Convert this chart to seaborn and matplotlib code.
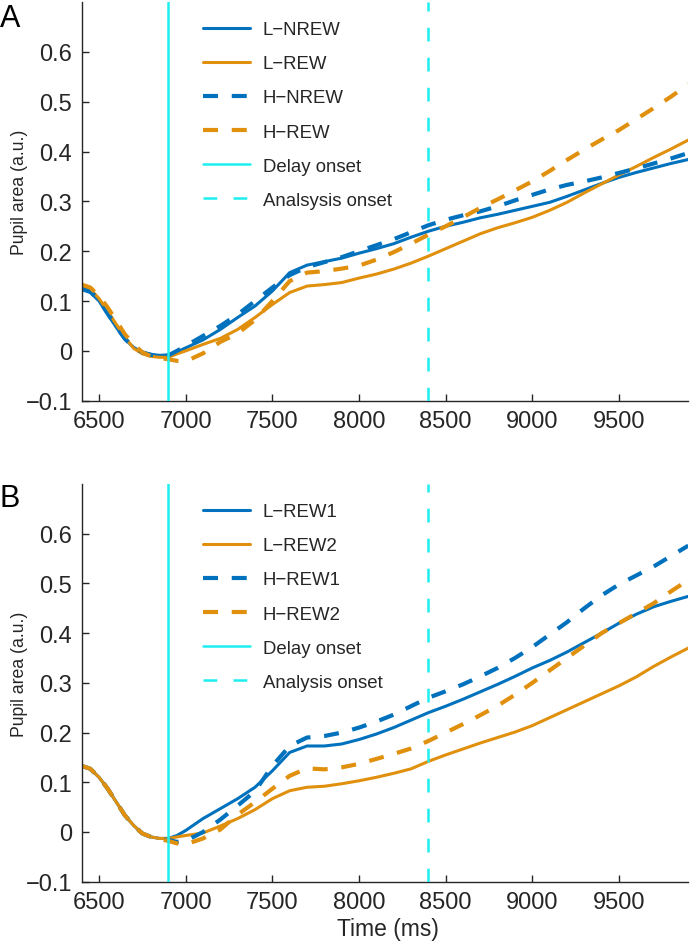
import matplotlib
matplotlib.use("Agg")
import matplotlib.pyplot as plt
import seaborn as sns
import pandas as pd

# ---------------- data ----------------
time_ms = [6400, 6450, 6500, 6550, 6600, 6650, 6700, 6750, 6800, 6850, 6900, 6950, 7000,
           7100, 7200, 7300, 7400, 7500, 7600, 7700, 7800, 7900,
           8000, 8100, 8200, 8300, 8400, 8500, 8600, 8700, 8800, 8900,
           9000, 9100, 9200, 9300, 9400, 9500, 9600, 9700, 9800, 9900]

# Panel A
a_l_nrew = [0.123, 0.117, 0.100, 0.073, 0.047, 0.023, 0.007, -0.003, -0.007, -0.009, -0.008, -0.002, 0.006,
            0.022, 0.043, 0.067, 0.090, 0.120, 0.157, 0.172, 0.179, 0.186,
            0.196, 0.205, 0.215, 0.228, 0.240, 0.250, 0.258, 0.267, 0.274, 0.282,
            0.290, 0.298, 0.310, 0.323, 0.336, 0.348, 0.358, 0.367, 0.376, 0.384]
a_l_rew = [0.130, 0.124, 0.105, 0.080, 0.053, 0.027, 0.005, -0.006, -0.011, -0.013, -0.013, -0.006, 0.000,
           0.013, 0.025, 0.043, 0.067, 0.093, 0.117, 0.130, 0.133, 0.137,
           0.146, 0.154, 0.164, 0.176, 0.190, 0.205, 0.220, 0.235, 0.247, 0.257,
           0.268, 0.282, 0.298, 0.317, 0.335, 0.353, 0.370, 0.388, 0.405, 0.423]
a_h_nrew = [0.125, 0.119, 0.102, 0.075, 0.048, 0.024, 0.007, -0.003, -0.008, -0.010, -0.009, 0.000, 0.010,
            0.030, 0.050, 0.073, 0.100, 0.127, 0.152, 0.168, 0.178, 0.188,
            0.200, 0.212, 0.224, 0.238, 0.252, 0.263, 0.272, 0.280, 0.290, 0.302,
            0.313, 0.324, 0.333, 0.340, 0.348, 0.357, 0.366, 0.376, 0.386, 0.397]
a_h_rew = [0.133, 0.127, 0.110, 0.087, 0.060, 0.033, 0.013, -0.003, -0.011, -0.014, -0.017, -0.020, -0.021,
           -0.005, 0.018, 0.035, 0.062, 0.100, 0.140, 0.157, 0.160, 0.165,
           0.171, 0.183, 0.198, 0.215, 0.233, 0.250, 0.268, 0.287, 0.304, 0.322,
           0.340, 0.361, 0.383, 0.404, 0.424, 0.443, 0.465, 0.487, 0.510, 0.535]

# Panel B
b_l_rew1 = [0.133, 0.127, 0.110, 0.087, 0.060, 0.033, 0.013, -0.003, -0.010, -0.013, -0.013, -0.007, 0.003,
            0.027, 0.047, 0.067, 0.090, 0.123, 0.160, 0.173, 0.173, 0.177,
            0.186, 0.197, 0.210, 0.225, 0.240, 0.253, 0.267, 0.282, 0.297, 0.313,
            0.330, 0.345, 0.362, 0.381, 0.400, 0.420, 0.438, 0.453, 0.464, 0.474]
b_l_rew2 = [0.133, 0.127, 0.110, 0.087, 0.060, 0.033, 0.013, -0.003, -0.010, -0.013, -0.013, -0.010, -0.007,
            -0.002, 0.012, 0.027, 0.045, 0.067, 0.083, 0.090, 0.092, 0.097,
            0.103, 0.110, 0.118, 0.127, 0.142, 0.155, 0.167, 0.179, 0.190, 0.201,
            0.214, 0.230, 0.246, 0.262, 0.278, 0.294, 0.312, 0.333, 0.352, 0.370]
b_h_rew1 = [0.133, 0.127, 0.110, 0.087, 0.060, 0.033, 0.013, -0.003, -0.010, -0.014, -0.016, -0.020, -0.018,
            0.000, 0.025, 0.053, 0.082, 0.133, 0.173, 0.190, 0.193, 0.200,
            0.210, 0.222, 0.236, 0.253, 0.270, 0.283, 0.297, 0.313, 0.330, 0.350,
            0.372, 0.397, 0.422, 0.450, 0.476, 0.498, 0.516, 0.534, 0.555, 0.576]
b_h_rew2 = [0.133, 0.127, 0.110, 0.087, 0.060, 0.033, 0.013, -0.003, -0.010, -0.014, -0.018, -0.023, -0.025,
            -0.013, 0.005, 0.035, 0.060, 0.087, 0.113, 0.128, 0.126, 0.130,
            0.137, 0.147, 0.157, 0.168, 0.183, 0.200, 0.217, 0.235, 0.254, 0.276,
            0.300, 0.325, 0.350, 0.375, 0.400, 0.420, 0.440, 0.460, 0.484, 0.507]

labels_a = ["L\u2212NREW", "L\u2212REW", "H\u2212NREW", "H\u2212REW", "Delay onset", "Analsysis onset"]
labels_b = ["L\u2212REW1", "L\u2212REW2", "H\u2212REW1", "H\u2212REW2", "Delay onset", "Analysis onset"]

delay_onset = 6900
analysis_onset = 8400

xticks = [6500, 7000, 7500, 8000, 8500, 9000, 9500]
yticks = [-0.1, 0, 0.1, 0.2, 0.3, 0.4, 0.5, 0.6]
yticklabels = ["\u22120.1", "0", "0.1", "0.2", "0.3", "0.4", "0.5", "0.6"]

# ---------------- style ----------------
sns.set_style("ticks")
plt.rcParams["font.family"] = ["Liberation Sans", "DejaVu Sans"]
dark = "#262626"
blue = "#0072BD"
orange = "#E0900C"
cyan = "#1DEEF0"

fig = plt.figure(figsize=(6.9, 9.45), dpi=100)
W, H = 690.0, 945.0
axA = fig.add_axes([81.7 / W, 1 - 401.7 / H, (688.3 - 81.7) / W, (401.7 - 3) / H])
axB = fig.add_axes([81.7 / W, 1 - 882.7 / H, (688.3 - 81.7) / W, (882.7 - 485) / H])


def draw(ax, series, labels):
    styles = [(blue, False), (orange, False), (blue, True), (orange, True)]
    for vals, lab, (col, dashed) in zip(series, labels[:4], styles):
        df = pd.DataFrame({"t": time_ms, "v": vals})
        sns.lineplot(data=df, x="t", y="v", ax=ax, color=col,
                     lw=3.0 if dashed else 2.2, label=lab, legend=False)
        if dashed:
            ax.lines[-1].set_dashes((3.6, 3.3))
    ax.axvline(delay_onset, color=cyan, lw=1.8, label=labels[4], zorder=5)
    vl = ax.axvline(analysis_onset, color=cyan, lw=1.8, label=labels[5], zorder=5)
    vl.set_dashes((5.5, 6.5))
    ax.set_xlim(6400, 9900)
    ax.set_ylim(-0.1, 0.7)
    ax.set_xticks(xticks)
    ax.set_xticklabels([str(v) for v in xticks])
    ax.set_yticks(yticks)
    ax.set_yticklabels(yticklabels)
    ax.tick_params(direction="in", length=5, width=1, labelsize=17, colors=dark,
                   pad=7)
    for s in ["top", "right"]:
        ax.spines[s].set_visible(False)
    for s in ["left", "bottom"]:
        ax.spines[s].set_color(dark)
        ax.spines[s].set_linewidth(1.0)
    ax.set_ylabel("Pupil area (a.u.)", fontsize=12.7, color=dark)
    ax.yaxis.set_label_coords(-0.088, 0.525)
    ax.set_xlabel("")
    leg = ax.legend(loc="upper left", bbox_to_anchor=(0.2, 0.952), frameon=False,
                    fontsize=13.4, handlelength=2.5, handletextpad=0.7,
                    labelspacing=0.92, borderpad=0, borderaxespad=0)
    for t in leg.get_texts():
        t.set_color(dark)


draw(axA, [a_l_nrew, a_l_rew, a_h_nrew, a_h_rew], labels_a)
draw(axB, [b_l_rew1, b_l_rew2, b_h_rew1, b_h_rew2], labels_b)

axB.set_xlabel("Time (ms)", fontsize=16.5, color=dark)
axB.xaxis.set_label_coords(0.505, -0.09)
axB.xaxis.label.set_va("top")

fig.text(0.0, 1 - 19 / H, "A", fontsize=22, va="center", ha="left", color="black")
fig.text(0.0, 1 - 499 / H, "B", fontsize=22, va="center", ha="left", color="black")

fig.savefig("out.png", dpi=100)
